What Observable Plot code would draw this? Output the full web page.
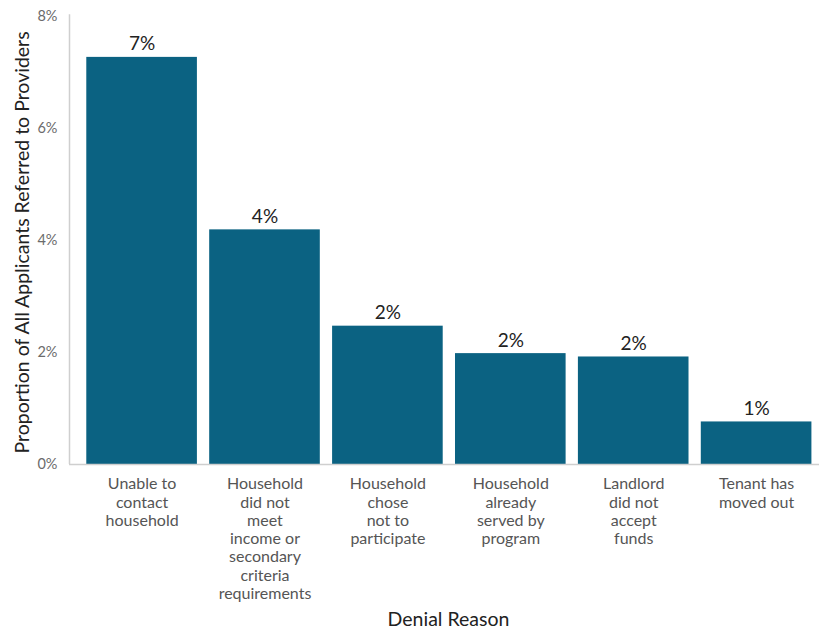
<!DOCTYPE html>
<html>
<head>
<meta charset="utf-8">
<script src="https://cdn.jsdelivr.net/npm/d3@7"></script>
<script src="https://cdn.jsdelivr.net/npm/@observablehq/plot@0.6"></script>
<style>
  html, body { margin: 0; padding: 0; background: #fff; }
  #chart svg { display: block; font-family: Lato, "Open Sans", sans-serif; }
</style>
</head>
<body>
<div id="chart"></div>
<script>
const categories = [
  "Unable to\ncontact\nhousehold",
  "Household\ndid not\nmeet\nincome or\nsecondary\ncriteria\nrequirements",
  "Household\nchose\nnot to\nparticipate",
  "Household\nalready\nserved by\nprogram",
  "Landlord\ndid not\naccept\nfunds",
  "Tenant has\nmoved out"
];
const values = [7.27, 4.19, 2.47, 1.98, 1.92, 0.76];
const valueLabels = ["7%", "4%", "2%", "2%", "2%", "1%"];
const yTicks = [0, 2, 4, 6, 8];
const yTitle = "Proportion of All Applicants Referred to Providers";
const xTitle = "Denial Reason";

const data = categories.map((c, i) => ({cat: c, value: values[i], label: valueLabels[i]}));

const chart = Plot.plot({
  width: 819,
  height: 630,
  marginLeft: 69,
  marginRight: 0,
  marginTop: 16,
  marginBottom: 166,
  style: {fontFamily: "Lato, 'Open Sans', sans-serif", background: "#fff"},
  x: {domain: categories, range: [74, 823.7], padding: 0.1, round: false, axis: null},
  y: {domain: [0, 8], axis: null},
  marks: [
    Plot.barY(data, {x: "cat", y: "value", fill: "#0b6282"}),
    Plot.ruleX([categories[0]], {y1: 0, y2: 8.03, dx: -72.6, stroke: "#cfcfcf", strokeWidth: 1.5}),
    Plot.ruleY([0], {stroke: "#cfcfcf", strokeWidth: 1.5}),
    Plot.axisY({ticks: yTicks, tickSize: 0, tickPadding: 12, tickFormat: d => d + "%", fontSize: 14.5, color: "#6b6b6b", label: null}),
    Plot.text(data, {x: "cat", y: "value", text: "label", dy: -13, fontSize: 19, fill: "#222"}),
    Plot.text(data, {x: "cat", y: 0, text: "cat", lineAnchor: "top", dy: 12, fontSize: 16, lineHeight: 1.14, fill: "#555"}),
    Plot.text([yTitle], {text: d => d, frameAnchor: "left", textAnchor: "middle", rotate: -90, dx: -47, dy: 2, fontSize: 19.5, fill: "#222"}),
    Plot.text([xTitle], {text: d => d, frameAnchor: "bottom", dx: 4, dy: 161, fontSize: 19.5, fill: "#222"})
  ]
});
document.getElementById("chart").appendChild(chart);
</script>
</body>
</html>
